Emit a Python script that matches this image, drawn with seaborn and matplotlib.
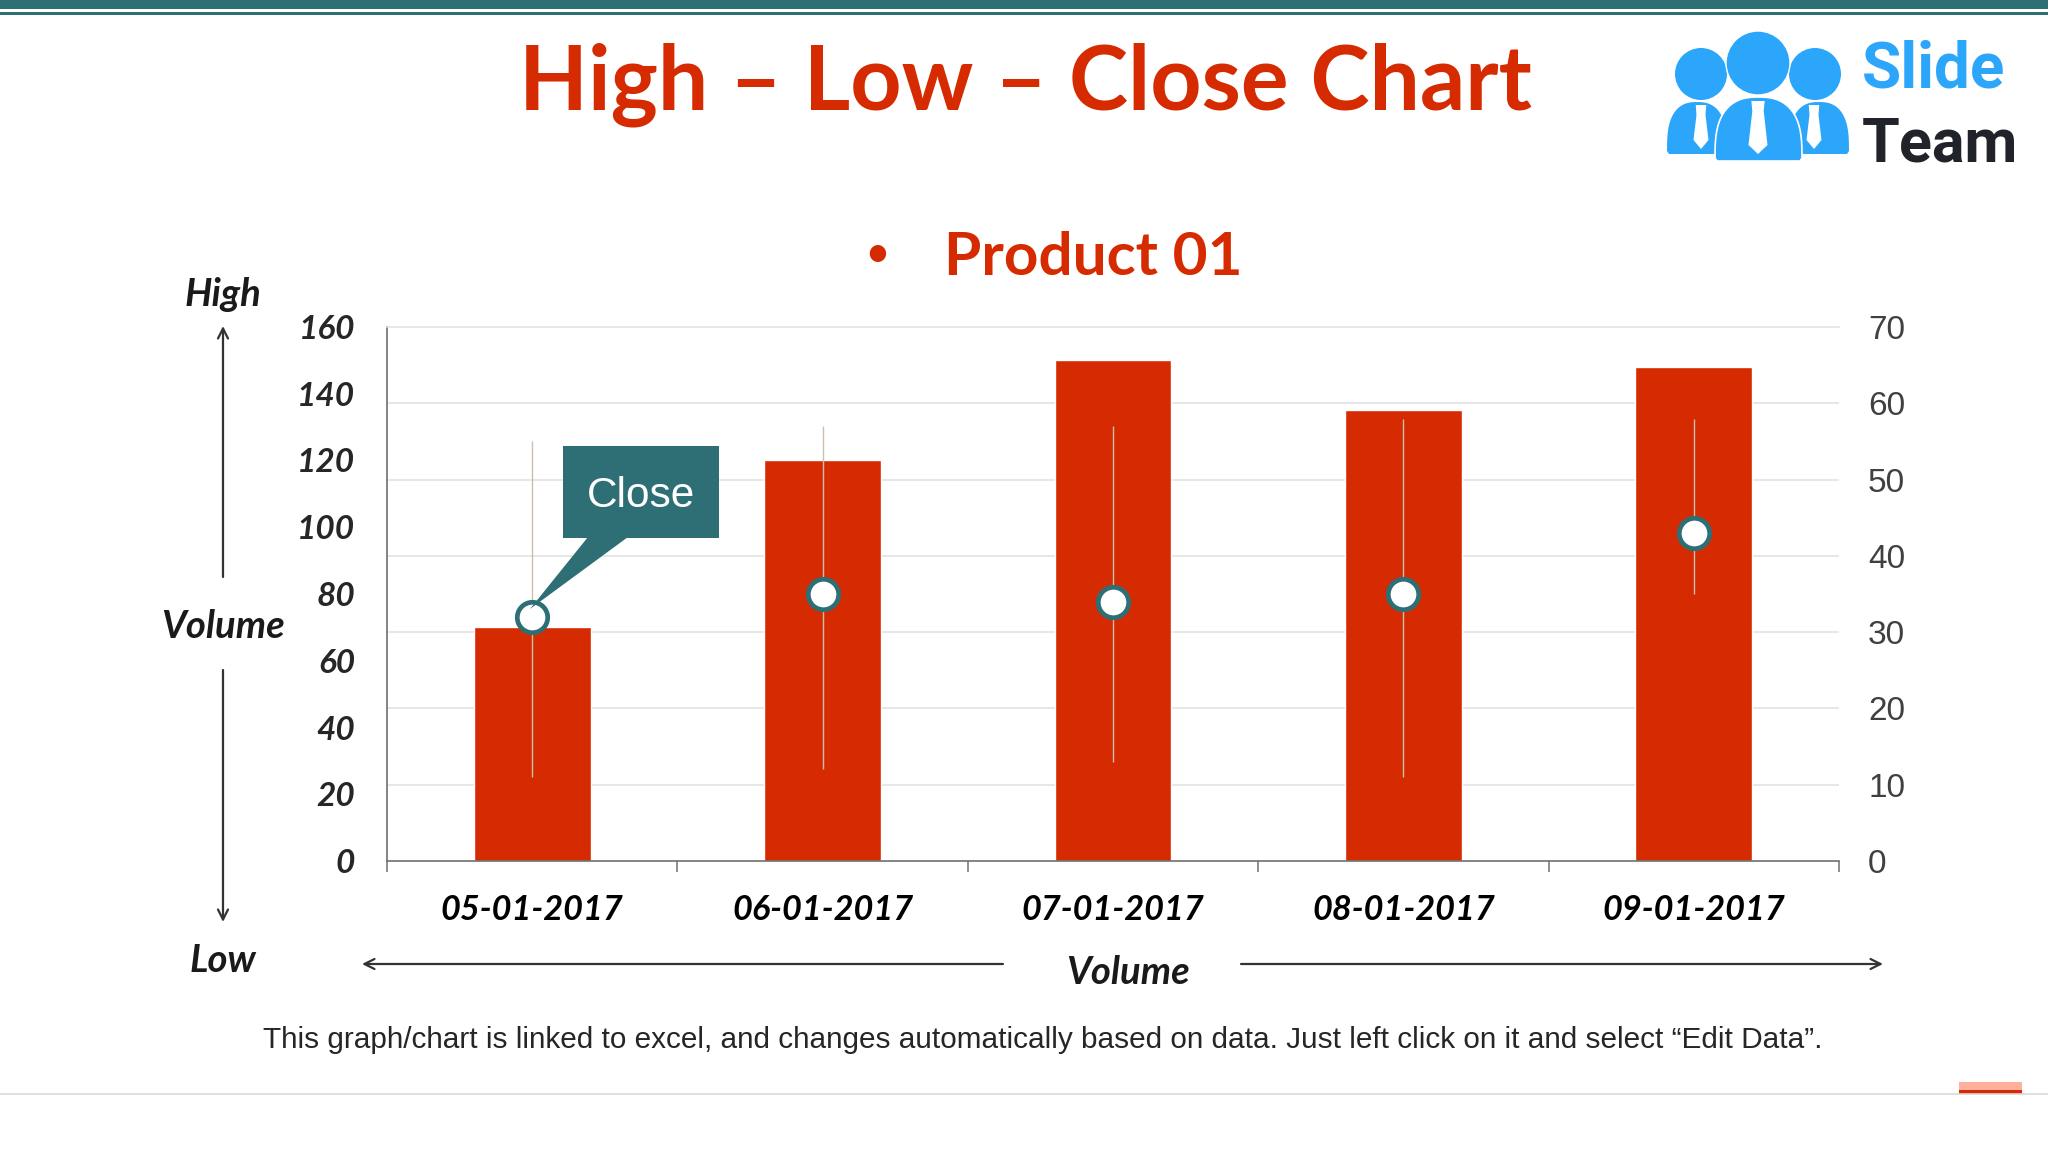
import matplotlib
import matplotlib.pyplot as plt
import numpy as np
import pandas as pd
import seaborn as sns
from matplotlib.patches import Circle, Polygon, Rectangle

matplotlib.use("agg")

dates = ["05-01-2017", "06-01-2017", "07-01-2017", "08-01-2017", "09-01-2017"]
volume = [70, 120, 150, 135, 148]
high = [55, 57, 57, 58, 58]
low = [11, 12, 13, 11, 35]
close = [32, 35, 34, 35, 43]
left_ticks = [0, 20, 40, 60, 80, 100, 120, 140, 160]
right_ticks = [0, 10, 20, 30, 40, 50, 60, 70]

RED = "#D62B00"
TEAL = "#2E6E75"
BLUE = "#2CA6FB"
GRID = "#E2DFE2"
W, H = 2048, 1152

sns.set_theme(style="white")
plt.rcParams["font.family"] = ["Lato", "DejaVu Sans"]

df = pd.DataFrame({"date": dates, "volume": volume, "high": high, "low": low, "close": close})

fig = plt.figure(figsize=(20.48, 11.52), dpi=100, facecolor="white")
ax = fig.add_axes([387 / W, 1 - 861 / H, (1839 - 387) / W, (861 - 327) / H])

sns.barplot(data=df, x="date", y="volume", color=RED, saturation=1, width=0.402, ax=ax)
ax.set_xlim(-0.5, 4.5)
ax.set_ylim(0, 160)
ax.set_xlabel("")
ax.set_ylabel("")

# gridlines follow the right axis but have to sit under the bars
ax.set_yticks(left_ticks)
ax.set_yticks(np.round(np.array(right_ticks) * 160 / 70, 6), minor=True)
ax.grid(True, axis="y", which="minor", color=GRID, linewidth=1.1)
ax.grid(False, axis="y", which="major")
ax.set_axisbelow(True)
ax.tick_params(axis="y", which="both", length=0)
ax.tick_params(axis="y", which="major", pad=23)
for label in ax.get_yticklabels():
    label.set(fontsize=24, fontweight="bold", fontstyle="italic", color="#262626")

ax.set_xticks(range(len(dates)), dates)
ax.set_xticks(np.arange(-0.5, 5), minor=True)
ax.tick_params(axis="x", which="major", length=0, pad=24)
ax.tick_params(axis="x", which="minor", length=8, width=1.1, color="#707070", bottom=True)
for label in ax.get_xticklabels():
    label.set(fontsize=24.7, fontweight="bold", fontstyle="italic", color="black")

ax.spines["right"].set_visible(False)
# the 70 gridline coincides with the top of the axes
ax.spines["top"].set_color(GRID)
ax.spines["top"].set_linewidth(1.1)
for side in ["left", "bottom"]:
    ax.spines[side].set_color("#707070")
    ax.spines[side].set_linewidth(1.2)

ax2 = ax.twinx()
ax2.set_ylim(0, 70)
ax2.set_yticks(right_ticks)
ax2.tick_params(axis="y", length=0, pad=21, labelsize=24, labelcolor="#404040")
for label in ax2.get_yticklabels():
    label.set_family("Liberation Sans")
for side in ["top", "right", "left", "bottom"]:
    ax2.spines[side].set_visible(False)
ax2.grid(False)
ax2.vlines(range(len(dates)), low, high, color="#CDBFAE", linewidth=1)
sns.scatterplot(
    data=df,
    x="date",
    y="close",
    color="white",
    edgecolor=TEAL,
    linewidth=3.4,
    s=480,
    zorder=5,
    ax=ax2,
)
ax2.set_ylabel("")
ax2.set_xlabel("")
ax2.set_xlim(-0.5, 4.5)

# slide furniture in pixel coordinates
top = fig.add_axes([0, 0, 1, 1], zorder=10)
top.set_xlim(0, W)
top.set_ylim(H, 0)
top.axis("off")
top.patch.set_alpha(0)

top.add_patch(Rectangle((0, 0), W, 9, color=TEAL, lw=0))
top.add_patch(Rectangle((0, 12), W, 3, color=TEAL, lw=0))
top.plot([0, W], [1094, 1094], color="#DAD8DA", lw=1.2)
top.add_patch(Rectangle((1959, 1082), 63, 8, color="#FFB09C", lw=0))
top.add_patch(Rectangle((1959, 1090), 63, 4, color=RED, lw=0))

top.text(1025, 109, "High – Low – Close Chart", color=RED, fontsize=64.4, fontweight="bold", ha="center", va="baseline")
top.text(877, 254, "•", color=RED, fontsize=27, fontweight="bold", ha="center", va="center")
top.text(944, 275, "Product 01", color=RED, fontsize=43.4, fontweight="bold", ha="left", va="baseline")

# logo
for cx, cy, r in [(1701, 74, 26), (1815, 74, 26)]:
    top.add_patch(Circle((cx, cy), r, color=BLUE, lw=0))
top.add_patch(Circle((1758, 63), 32, color=BLUE, ec="white", lw=1))


def body(x0, x1, y_top, y_bot):
    # rounded shoulders, nearly straight sides
    t = np.linspace(np.pi, 0, 40)
    xs = (x0 + x1) / 2 + (x1 - x0) / 2 * np.sign(np.cos(t)) * np.abs(np.cos(t)) ** 0.8
    ys = y_bot - 3 - (y_bot - 3 - y_top) * np.sin(t) ** 0.7
    return np.column_stack([np.r_[x0 + 2, xs, x1 - 2], np.r_[y_bot, ys, y_bot]])


top.add_patch(Polygon(body(1667, 1727, 102, 154), color=BLUE, lw=0))
top.add_patch(Polygon(body(1789, 1849, 102, 154), color=BLUE, lw=0))
top.add_patch(Polygon(body(1715, 1802, 97, 161), fc=BLUE, ec="white", lw=1.2))
for cx, y0, y1, w in [(1701, 105, 149, 7.5), (1758, 101, 154, 9.5), (1814, 105, 149, 7.5)]:
    tie = [(cx - w * 0.7, y0), (cx + w * 0.7, y0), (cx + w * 0.6, y0 + 10), (cx + w, y1 - 9),
           (cx, y1), (cx - w, y1 - 9), (cx - w * 0.6, y0 + 10)]
    top.add_patch(Polygon(tie, color="white", lw=0))
top.text(1862, 87, "Slide", color=BLUE, fontsize=46, fontweight="bold", family="Roboto", va="baseline")
top.text(1862, 161, "Team", color="#20242A", fontsize=44, fontweight="bold", family="Roboto", va="baseline")

# axis captions and arrows
side_font = dict(fontsize=27.5, fontweight="bold", fontstyle="italic", color="#1A1A1A", ha="center", va="center")
top.text(223, 294, "High", **side_font)
top.text(223, 627, "Volume", **side_font)
top.text(223, 961, "Low", **side_font)
top.text(1128, 973, "Volume", **side_font)

arrow = dict(arrowstyle="->", color="#333333", lw=1.6, mutation_scale=18, shrinkA=0, shrinkB=0)
top.annotate("", xy=(223, 326), xytext=(223, 577), arrowprops=arrow)
top.annotate("", xy=(223, 922), xytext=(223, 670), arrowprops=arrow)
top.annotate("", xy=(362, 964), xytext=(1003, 964), arrowprops=arrow)
top.annotate("", xy=(1883, 964), xytext=(1241, 964), arrowprops=arrow)

top.text(
    1043,
    1040,
    "This graph/chart is linked to excel, and changes automatically based on data. Just left click on it and select “Edit Data”.",
    fontsize=21.4,
    family="Liberation Sans",
    color="#262626",
    ha="center",
    va="center",
)

# callout for the first close point
top.add_patch(Rectangle((563, 446), 156, 92, color=TEAL, lw=0))
top.add_patch(Polygon([(588, 537), (628, 537), (530, 609)], color=TEAL, lw=0))
top.text(641, 496, "Close", color="white", fontsize=30.5, family="Liberation Sans", ha="center", va="center")

fig.savefig("out.png", dpi=100)
